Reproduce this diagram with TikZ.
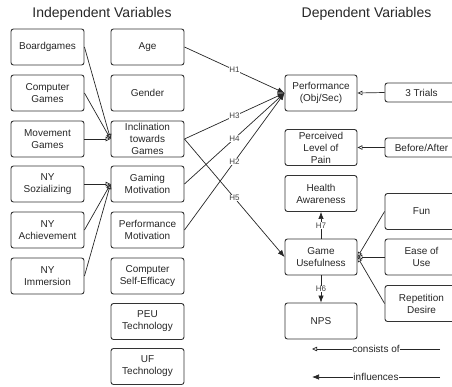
\documentclass[tikz,border=0pt]{standalone}
\usepackage{fontspec}
\setmainfont{Liberation Sans}
\usetikzlibrary{arrows.meta}
\begin{document}
\begin{tikzpicture}[x=1pt,y=-1pt,
  box/.style={draw=black!80, rounded corners=2.5pt, line width=0.9pt, minimum width=73pt, minimum height=36pt, inner sep=1pt, align=center, font=\fontsize{10}{12}\selectfont, text=black!85},
  smallbox/.style={box, minimum height=19pt},
  cons/.style={draw=black!85, line width=0.7pt, -{Triangle[open, length=5pt, width=4.5pt]}},
  infl/.style={draw=black!85, line width=0.7pt, -{Latex[length=7pt, width=5.5pt]}},
  hl/.style={fill=white, inner sep=0.6pt, font=\fontsize{8}{9}\selectfont, text=black!75},
  title/.style={font=\fontsize{14}{16}\selectfont, text=black!85},
  legend/.style={fill=white, inner sep=0.6pt, font=\fontsize{10}{12}\selectfont, text=black!85},
]
\useasboundingbox (0,0) rectangle (452,386);
\node[title] (t1) at (102,14) {Independent Variables};
\node[title] (t2) at (366.5,14) {Dependent Variables};
% left column
\node[box] (board) at (47.5,47) {Boardgames};
\node[box] (comp) at (47.5,93) {Computer\\Games};
\node[box] (move) at (47.5,139) {Movement\\Games};
\node[box] (soz) at (47.5,184) {NY\\Sozializing};
\node[box] (ach) at (47.5,230) {NY\\Achievement};
\node[box] (imm) at (47.5,276) {NY\\Immersion};
% middle column
\node[box] (age) at (147.5,47) {Age};
\node[box] (gender) at (147.5,93) {Gender};
\node[box] (incl) at (147.5,139) {Inclination\\towards\\Games};
\node[box] (gmot) at (147.5,184) {Gaming\\Motivation};
\node[box] (pmot) at (147.5,230) {Performance\\Motivation};
\node[box] (cse) at (147.5,276) {Computer\\Self-Efficacy};
\node[box] (peu) at (147.5,321.5) {PEU\\Technology};
\node[box] (uf) at (147.5,366.5) {UF\\Technology};
% right column
\node[box, minimum width=72pt] (perf) at (321,93) {Performance\\(Obj/Sec)};
\node[box, minimum width=72pt] (pain) at (321,147.5) {Perceived\\Level of\\Pain};
\node[box, minimum width=72pt] (health) at (321,193.5) {Health\\Awareness};
\node[box, minimum width=72pt] (gu) at (321,257) {Game\\Usefulness};
\node[box, minimum width=72pt] (nps) at (321,321) {NPS};
% far right column
\node[smallbox] (trials) at (421.5,92.5) {3 Trials};
\node[smallbox] (ba) at (421.5,147.5) {Before/After};
\node[box] (fun) at (421.5,211.5) {Fun};
\node[box] (ease) at (421.5,257) {Ease of\\Use};
\node[box] (rep) at (421.5,303.5) {Repetition\\Desire};
% consists-of connectors
\draw[cons] (board.east) -- (incl.west);
\draw[cons] (comp.east) -- (incl.west);
\draw[cons] (move.east) -- (incl.west);
\draw[cons] (soz.east) -- (gmot.west);
\draw[cons] (ach.east) -- (gmot.west);
\draw[cons] (imm.east) -- (gmot.west);
\draw[cons] (trials.west) -- (perf.east);
\draw[cons] (ba.west) -- (pain.east);
\draw[cons] (fun.west) -- (gu.east);
\draw[cons] (ease.west) -- (gu.east);
\draw[cons] (rep.west) -- (gu.east);
% influences
\draw[infl] (age.east) -- node[hl]{H1} (perf.west);
\draw[infl] (incl.east) -- node[hl]{H3} (perf.west);
\draw[infl] (gmot.east) -- node[hl]{H4} (perf.west);
\draw[infl] (pmot.east) -- node[hl]{H2} (perf.west);
\draw[infl] (incl.east) -- node[hl]{H5} (gu.west);
\draw[infl] (gu.north) -- node[hl]{H7} (health.south);
\draw[infl] (gu.south) -- node[hl]{H6} (nps.north);
% legend
\coordinate (l1s) at (440,349);
\coordinate (l1e) at (312,349);
\coordinate (l2s) at (440,377);
\coordinate (l2e) at (312,377);
\draw[cons] (l1s) -- node[legend]{consists of} (l1e);
\draw[infl] (l2s) -- node[legend]{influences} (l2e);
\end{tikzpicture}
\end{document}
